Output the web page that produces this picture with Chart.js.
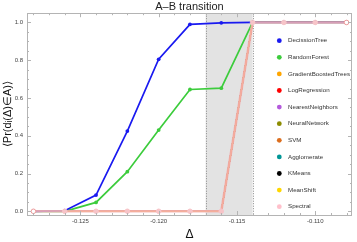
<!DOCTYPE html>
<html lang="en">
<head>
    <meta charset="UTF-8">
    <title>A–B transition</title>
    <script src="https://cdn.jsdelivr.net/npm/chart.js"></script>
    <style>
        body { margin: 0; background: #fff; }
        canvas { display: block; }
    </style>
</head>
<body>
    <canvas id="chart" width="357" height="242"></canvas>

    <script>
        // Data
        const deltas = [-0.128, -0.126, -0.124, -0.122, -0.120, -0.118, -0.116, -0.114, -0.112, -0.110, -0.108];
        const decissionTree = [0, 0.003, 0.086, 0.425, 0.805, 0.99, 0.998, 1, 1, 1, 1];
        const randomForest = [0, 0, 0.047, 0.21, 0.43, 0.645, 0.652, 1, 1, 1, 1];
        const stepSeries = [0, 0, 0, 0, 0, 0, 0, 1, 1, 1, 1]; // remaining models all jump together
        const modelNames = ['DecissionTree', 'RandomForest', 'GradientBoostedTrees', 'LogRegression',
            'NearestNeighbors', 'NeuralNetwork', 'SVM', 'Agglomerate', 'KMeans', 'MeanShift', 'Spectral'];
        const modelColors = ['#1a1af0', '#3ccc3c', '#ffa500', '#ff0000', '#b45adc', '#8c8c00',
            '#dc6e1e', '#009696', '#000000', '#ffd700', '#ffc0cb'];
        const shadedRange = [-0.117, -0.114];
        const xTicks = [-0.125, -0.120, -0.115, -0.110];
        const yTicks = [0, 0.2, 0.4, 0.6, 0.8, 1.0];

        Chart.defaults.font.family = "'Liberation Sans', Arial, sans-serif";

        const seriesValues = modelNames.map((n, i) => i === 0 ? decissionTree : i === 1 ? randomForest : stepSeries);

        const datasets = modelNames.map((name, i) => {
            const isSpectral = name === 'Spectral';
            const isMain = i < 2;
            return {
                label: name,
                data: deltas.map((d, k) => ({ x: d, y: seriesValues[i][k] })),
                borderColor: isSpectral ? 'rgba(242,176,176,0.88)' : modelColors[i],
                borderWidth: isSpectral ? 2.6 : (isMain ? 1.7 : 1.2),
                pointRadius: isSpectral ? 2.3 : (isMain ? 1.9 : 0),
                pointBackgroundColor: isSpectral
                    ? deltas.map((d, k) => (k === 0 || k === deltas.length - 1) ? '#ffffff' : '#f7c4c8')
                    : modelColors[i],
                pointBorderColor: isSpectral
                    ? deltas.map((d, k) => (k === 0 || k === deltas.length - 1) ? '#ee9a9a' : '#f7c4c8')
                    : modelColors[i],
                pointBorderWidth: isSpectral ? 1 : 0,
                tension: 0,
                order: isSpectral ? 0 : i + 1
            };
        });

        // grey band + dotted edges behind the lines
        const bandPlugin = {
            id: 'band',
            beforeDatasetsDraw(chart) {
                const { ctx, chartArea, scales } = chart;
                const x0 = scales.x.getPixelForValue(shadedRange[0]);
                const x1 = scales.x.getPixelForValue(shadedRange[1]);
                ctx.save();
                ctx.fillStyle = '#e3e3e3';
                ctx.fillRect(x0, chartArea.top, x1 - x0, chartArea.bottom - chartArea.top);
                ctx.strokeStyle = '#8a8a8a';
                ctx.lineWidth = 1;
                ctx.setLineDash([1, 1.5]);
                [x0, x1].forEach(x => {
                    ctx.beginPath();
                    ctx.moveTo(Math.round(x) + 0.5, chartArea.top);
                    ctx.lineTo(Math.round(x) + 0.5, chartArea.bottom);
                    ctx.stroke();
                });
                ctx.restore();
            }
        };

        // frame with inward ticks on all four sides
        const framePlugin = {
            id: 'frame',
            afterDraw(chart) {
                const { ctx, chartArea: a, scales } = chart;
                ctx.save();
                ctx.strokeStyle = '#b4b4b4';
                ctx.lineWidth = 1;
                ctx.strokeRect(Math.round(a.left) + 0.5, Math.round(a.top) + 0.5,
                    Math.round(a.right - a.left) - 1, Math.round(a.bottom - a.top));
                ctx.beginPath();
                for (let v = -0.128; v <= -0.1076; v += 0.001) {
                    const x = Math.round(scales.x.getPixelForValue(v)) + 0.5;
                    const major = Math.abs(Math.round(v * 1000) % 5) === 0;
                    const len = major ? 4 : 2;
                    ctx.moveTo(x, a.bottom); ctx.lineTo(x, a.bottom - len);
                    ctx.moveTo(x, a.top); ctx.lineTo(x, a.top + len);
                }
                for (let v = 0; v <= 1.04; v += 0.05) {
                    const y = Math.round(scales.y.getPixelForValue(v)) + 0.5;
                    const major = Math.round(v * 100) % 20 === 0;
                    const len = major ? 4 : 2;
                    ctx.moveTo(a.left, y); ctx.lineTo(a.left + len, y);
                    ctx.moveTo(a.right, y); ctx.lineTo(a.right - len, y);
                }
                ctx.stroke();
                ctx.restore();
            }
        };

        // legend inside the plot on the right
        const legendPlugin = {
            id: 'insideLegend',
            afterDraw(chart) {
                const { ctx } = chart;
                ctx.save();
                ctx.font = "6.2px 'Liberation Sans', Arial, sans-serif";
                ctx.textBaseline = 'middle';
                modelNames.forEach((name, i) => {
                    const y = 40.7 + i * 16.6;
                    ctx.fillStyle = modelColors[i];
                    ctx.beginPath();
                    ctx.arc(279.3, y, 2.4, 0, Math.PI * 2);
                    ctx.fill();
                    ctx.fillStyle = '#333';
                    ctx.fillText(name, 288, y);
                });
                ctx.restore();
            }
        };

        new Chart(document.getElementById('chart'), {
            type: 'line',
            data: { datasets: datasets },
            plugins: [bandPlugin, framePlugin, legendPlugin],
            options: {
                responsive: false,
                animation: false,
                layout: { padding: { left: 0, right: 2, top: 0, bottom: 0 } },
                plugins: {
                    legend: { display: false },
                    tooltip: { enabled: false },
                    title: {
                        display: true,
                        fullSize: false,
                        text: 'A–B transition',
                        color: '#222',
                        font: { size: 11, weight: 'normal', lineHeight: 1.2 },
                        padding: { top: 0, bottom: 0 }
                    }
                },
                scales: {
                    x: {
                        type: 'linear',
                        min: -0.12841,
                        max: -0.10765,
                        grid: { display: false, drawTicks: false },
                        border: { display: false },
                        afterBuildTicks: s => { s.ticks = xTicks.map(v => ({ value: v })); },
                        afterFit: s => { s.height = 27; },
                        ticks: {
                            padding: 3,
                            color: '#444',
                            font: { size: 6 },
                            maxRotation: 0,
                            callback: v => v.toFixed(3)
                        },
                        title: {
                            display: true,
                            text: 'Δ',
                            color: '#111',
                            font: { size: 12 },
                            padding: { top: 0, bottom: 0 }
                        }
                    },
                    y: {
                        min: -0.0196,
                        max: 1.049,
                        grid: { display: false, drawTicks: false },
                        border: { display: false },
                        afterBuildTicks: s => { s.ticks = yTicks.map(v => ({ value: v })); },
                        afterFit: s => { s.width = 27; },
                        ticks: {
                            padding: 4,
                            color: '#444',
                            font: { size: 6 },
                            callback: v => v.toFixed(1)
                        },
                        title: {
                            display: true,
                            text: '⟨Pr(dᵢ(Δ)∈A)⟩',
                            color: '#111',
                            font: { size: 11 },
                            padding: { top: 1, bottom: 0 }
                        }
                    }
                }
            }
        });
    </script>
</body>
</html>
